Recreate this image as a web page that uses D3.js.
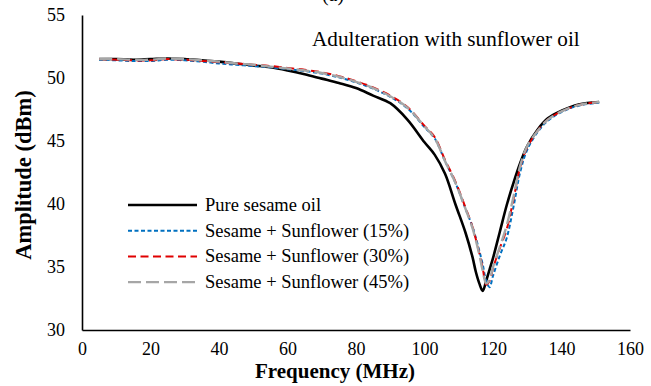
<!DOCTYPE html>
<html>
<head>
<meta charset="utf-8">
<script src="https://cdn.jsdelivr.net/npm/d3@7"></script>
<style>
  body { margin: 0; background: #fff; }
  svg { display: block; }
  svg text { font-family: "Times New Roman", "Liberation Serif", serif; }
</style>
</head>
<body>
<div id="chart"></div>
<script>
// data
const freq = [5, 10, 15, 20, 25, 30, 35, 40, 45, 50, 55, 60, 65, 70, 75, 80, 85, 90, 95, 100,
  103, 106, 109, 112, 114, 115, 116, 117, 118, 119, 120, 122, 124, 126, 128, 130, 133, 136, 140, 145, 151];

const pure = [51.5, 51.5, 51.45, 51.5, 51.55, 51.5, 51.4, 51.3, 51.15, 51.0, 50.85, 50.6, 50.3, 49.95, 49.6, 49.2, 48.6, 48.0, 46.7, 44.9,
  43.9, 42.4, 40.0, 37.7, 35.8, 34.6, 33.7, 33.1, 33.9, 34.8, 35.7, 37.8, 39.9, 41.7, 43.3, 44.6, 45.9, 46.8, 47.4, 47.9, 48.1];

const sun15 = [51.45, 51.4, 51.35, 51.35, 51.45, 51.4, 51.3, 51.15, 51.05, 50.95, 50.85, 50.7, 50.55, 50.35, 50.05, 49.65, 49.15, 48.5, 47.6, 46.1,
  45.2, 43.4, 41.7, 39.6, 38.2, 37.3, 36.3, 35.2, 33.9, 33.4, 34.3, 35.9, 37.3, 39.8, 42.6, 44.3, 45.7, 46.6, 47.3, 47.8, 48.05];

const sun30 = [51.5, 51.45, 51.4, 51.4, 51.5, 51.45, 51.35, 51.25, 51.15, 51.05, 50.95, 50.8, 50.65, 50.45, 50.15, 49.75, 49.25, 48.6, 47.7, 46.2,
  45.3, 43.5, 41.8, 39.7, 38.2, 37.2, 36.1, 34.9, 33.6, 33.9, 34.9, 36.5, 38.0, 40.4, 43.0, 44.5, 45.8, 46.7, 47.35, 47.85, 48.1];

const sun45 = [51.5, 51.5, 51.45, 51.45, 51.55, 51.5, 51.4, 51.3, 51.15, 51.05, 50.9, 50.75, 50.6, 50.4, 50.1, 49.7, 49.2, 48.55, 47.65, 46.15,
  45.2, 43.4, 41.7, 39.6, 38.1, 37.1, 36.0, 34.7, 33.7, 34.0, 35.0, 36.6, 38.3, 40.6, 43.1, 44.6, 45.8, 46.7, 47.35, 47.85, 48.1];

const xTicks = [0, 20, 40, 60, 80, 100, 120, 140, 160];
const yTicks = [30, 35, 40, 45, 50, 55];

const seriesNames = ["Pure sesame oil", "Sesame + Sunflower (15%)", "Sesame + Sunflower (30%)", "Sesame + Sunflower (45%)"];
const seriesValues = [pure, sun15, sun30, sun45];
const seriesColors = ["#000000", "#0070C0", "#E00000", "#A6A6A6"];
const seriesDash = [null, "4,2.5", "8,4.5", "13,5"];
const seriesWidth = [2.6, 2, 2, 2.4];

const width = 651, height = 386;
const margin = { top: 15, right: 21, bottom: 56, left: 82 };
const serif = "Times New Roman, Liberation Serif, serif";

const svg = d3.select("#chart")
  .append("svg")
  .attr("width", width)
  .attr("height", height)
  .attr("font-family", serif);

const x = d3.scaleLinear().domain([0, 160]).range([margin.left, width - margin.right]);
const y = d3.scaleLinear().domain([30, 55]).range([height - margin.bottom, margin.top]);

//axes, no tick marks, just the lines and labels
const xAxis = svg.append("g")
  .attr("transform", `translate(0,${y(30)})`)
  .call(d3.axisBottom(x).tickValues(xTicks).tickSize(0).tickPadding(12));
const yAxis = svg.append("g")
  .attr("transform", `translate(${x(0)},0)`)
  .call(d3.axisLeft(y).tickValues(yTicks).tickSize(0).tickPadding(17));

[xAxis, yAxis].forEach((g) => {
  g.attr("font-family", serif).attr("font-size", 18);
  g.select(".domain").attr("stroke", "#000").attr("stroke-width", 1.6);
  g.selectAll("text").attr("fill", "#000");
});

//lines
const line = d3.line()
  .x((d, i) => x(freq[i]))
  .y((d) => y(d))
  .curve(d3.curveCatmullRom.alpha(0.5));

seriesValues.forEach((vals, i) => {
  svg.append("path")
    .datum(vals)
    .attr("d", line)
    .attr("fill", "none")
    .attr("stroke", seriesColors[i])
    .attr("stroke-width", seriesWidth[i])
    .attr("stroke-dasharray", seriesDash[i])
    .attr("stroke-linejoin", "round");
});

//axis titles
svg.append("text")
  .attr("x", 335)
  .attr("y", 378)
  .attr("text-anchor", "middle")
  .attr("font-size", 21)
  .attr("font-weight", "bold")
  .text("Frequency (MHz)");

svg.append("text")
  .attr("transform", `translate(31,175) rotate(-90)`)
  .attr("text-anchor", "middle")
  .attr("font-size", 22.5)
  .attr("font-weight", "bold")
  .text("Amplitude (dBm)");

//panel label (cut off at the top in the original) and annotation
svg.append("text")
  .attr("x", 333)
  .attr("y", 1)
  .attr("text-anchor", "middle")
  .attr("font-size", 20)
  .text("(a)");

svg.append("text")
  .attr("x", 312)
  .attr("y", 46)
  .attr("font-size", 21.2)
  .text("Adulteration with sunflower oil");

//legend
const legend = svg.append("g");
seriesNames.forEach((name, i) => {
  const ly = 205 + i * 25.7;
  legend.append("line")
    .attr("x1", 128).attr("x2", 197)
    .attr("y1", ly).attr("y2", ly)
    .attr("stroke", seriesColors[i])
    .attr("stroke-width", seriesWidth[i])
    .attr("stroke-dasharray", seriesDash[i]);
  legend.append("text")
    .attr("x", 205)
    .attr("y", ly + 6)
    .attr("font-size", 18.5)
    .text(name);
});
</script>
</body>
</html>
